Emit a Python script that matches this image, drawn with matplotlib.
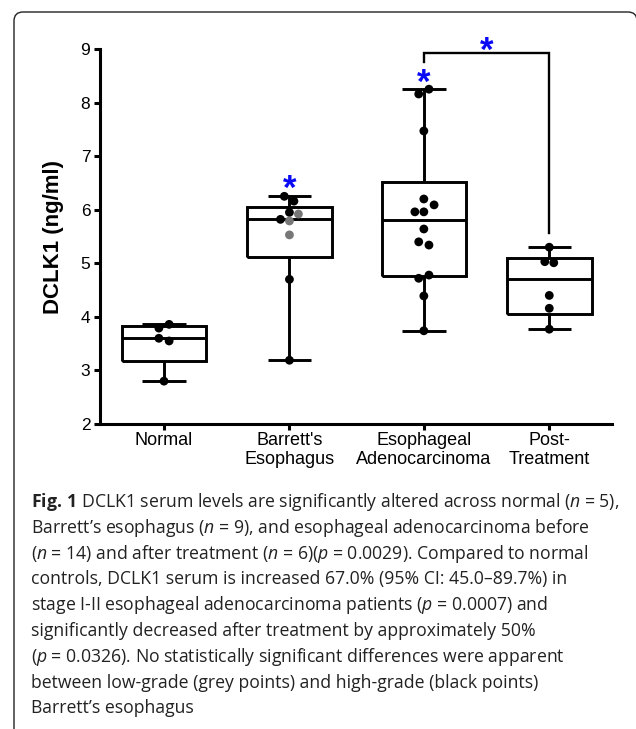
import numpy as np
import matplotlib
matplotlib.use('Agg')
import matplotlib.pyplot as plt
from matplotlib.patches import FancyBboxPatch
from matplotlib.textpath import TextPath
from matplotlib.font_manager import FontProperties
from matplotlib.transforms import offset_copy, IdentityTransform

# ---------------- data ----------------
categories = ['Normal', "Barrett's\nEsophagus", 'Esophageal\nAdenocarcinoma', 'Post-\nTreatment']
normal = [3.86, 3.79, 3.60, 3.55, 2.80]
barrett = [6.25, 6.16, 5.95, 5.92, 5.82, 5.79, 5.53, 4.70, 3.19]
barrett_grade = ['high', 'high', 'high', 'low', 'high', 'low', 'low', 'high', 'high']
eac = [8.25, 8.16, 7.47, 6.20, 6.09, 5.96, 5.96, 5.64, 5.40, 5.34, 4.78, 4.72, 4.39, 3.74]
post = [5.30, 5.03, 5.01, 4.40, 4.16, 3.77]
yticks = [2, 3, 4, 5, 6, 7, 8, 9]
y_label = 'DCLK1 (ng/ml)'

caption_lines = [
    r"$\mathbf{Fig.\,1}$ DCLK1 serum levels are significantly altered across normal ($n$ = 5),",
    r"Barrett’s esophagus ($n$ = 9), and esophageal adenocarcinoma before",
    r"($n$ = 14) and after treatment ($n$ = 6)($p$ = 0.0029). Compared to normal",
    r"controls, DCLK1 serum is increased 67.0% (95% CI: 45.0–89.7%) in",
    r"stage I-II esophageal adenocarcinoma patients ($p$ = 0.0007) and",
    r"significantly decreased after treatment by approximately 50%",
    r"($p$ = 0.0326). No statistically significant differences were apparent",
    r"between low-grade (grey points) and high-grade (black points)",
    r"Barrett’s esophagus",
]

# ---------------- layout / style (not data) ----------------
positions = [1.0, 1.98, 3.03, 4.01]
normal_dx = [0.04, -0.04, -0.04, 0.04, 0]
barrett_dx = [-0.04, 0.035, 0, 0.07, -0.07, 0, 0, 0, 0]
eac_dx = [0.04, -0.04, 0, 0, 0.08, -0.07, 0, 0, -0.04, 0.04, 0.04, -0.04, 0, 0]
post_dx = [0, -0.035, 0.035, 0, 0, 0]

CAP_FONT = 'Open Sans'
plt.rcParams['font.family'] = ['Liberation Sans', 'DejaVu Sans']
plt.rcParams['mathtext.fontset'] = 'custom'
plt.rcParams['mathtext.rm'] = CAP_FONT
plt.rcParams['mathtext.it'] = CAP_FONT + ':italic'
plt.rcParams['mathtext.bf'] = CAP_FONT + ':bold'

W, H = 636, 729
fig = plt.figure(figsize=(W / 100, H / 100), dpi=100)
fig.patch.set_facecolor('white')

ax_l, ax_r, ax_t, ax_b = 100, 612, 49, 424
ax = fig.add_axes([ax_l / W, 1 - ax_b / H, (ax_r - ax_l) / W, (ax_b - ax_t) / H])
ax.set_xlim(0.5, 4.5)
ax.set_ylim(2, 9)

LW = 2.1
groups = [normal, barrett, eac, post]


def box_stats(v):
    q1, med, q3 = np.percentile(v, [25, 50, 75], method='weibull')
    return dict(med=med, q1=q1, q3=q3, whislo=min(v), whishi=max(v), fliers=[])


stats = [box_stats(g) for g in groups]
lp = dict(color='black', lw=LW, solid_joinstyle='miter', solid_capstyle='butt')
ax.bxp(stats, positions=positions, widths=0.66, capwidths=0.34, showfliers=False,
       boxprops=lp, whiskerprops=lp, capprops=lp, medianprops=lp, manage_ticks=False)

# points
dxs = [normal_dx, barrett_dx, eac_dx, post_dx]
for i, (g, dx) in enumerate(zip(groups, dxs)):
    xs = [positions[i] + d for d in dx]
    if i == 1:
        cols = ['#777777' if gr == 'low' else 'black' for gr in barrett_grade]
    else:
        cols = ['black'] * len(g)
    ax.scatter(xs, g, s=40, c=cols, zorder=5, linewidths=0, clip_on=False)

# axes styling
for s in ['top', 'right']:
    ax.spines[s].set_visible(False)
for s in ['left', 'bottom']:
    ax.spines[s].set_linewidth(2.2)
ax.set_yticks(yticks)
ax.set_yticklabels([str(t) for t in yticks])
ax.set_xticks(positions)
ax.set_xticklabels(categories, fontsize=13, linespacing=1.1)
ax.tick_params(axis='y', length=4, width=2.2, pad=3, labelsize=12.5)
ax.tick_params(axis='x', length=4, width=2.2, pad=2, labelsize=13)
ax.set_ylabel(y_label, fontsize=16, fontweight='bold', va='center')
ax.yaxis.set_label_coords((54 - ax_l) / (ax_r - ax_l), 0.5)

# significance bracket
ax.plot([positions[2], positions[2], positions[3], positions[3]], [8.75, 8.92, 8.92, 5.56],
        color='black', lw=1.7, clip_on=False, solid_joinstyle='miter')

# stars (glyph centred at the target point)
star_fs = 25
fp = FontProperties(family='Liberation Sans', weight='bold', size=star_fs)
tp = TextPath((0, 0), '*', size=star_fs, prop=fp)
bb = tp.get_extents()
cx, cy = (bb.x0 + bb.x1) / 2, (bb.y0 + bb.y1) / 2
star_tr = offset_copy(ax.transData, fig=fig, x=-cx, y=-cy, units='points')
for (sx, sy) in [(positions[1], 6.53), (positions[2], 8.51),
                 ((positions[2] + positions[3]) / 2, 9.11)]:
    ax.text(sx, sy, '*', transform=star_tr, ha='left', va='baseline', color='#0a0af5',
            fontproperties=fp, clip_on=False)

# border
border = FancyBboxPatch((14, -20), 623, H - 12 + 20, boxstyle='round,pad=0,rounding_size=9',
                        transform=IdentityTransform(), facecolor='none', edgecolor='#222222',
                        lw=1.0, zorder=0)
fig.patches.append(border)

# caption
cap_fp = dict(family=CAP_FONT, color='#222222')
texts = []
base0, step = 507, 25.8
for i, line in enumerate(caption_lines):
    t = fig.text(31 / W, 1 - (base0 + i * step) / H, line, ha='left', va='baseline',
                 fontsize=11, **cap_fp)
    texts.append(t)
r = fig.canvas.get_renderer()
w = texts[0].get_window_extent(r).width
fs = 11 * 587 / w
for t in texts:
    t.set_fontsize(fs)

fig.savefig('out.png', dpi=100)
